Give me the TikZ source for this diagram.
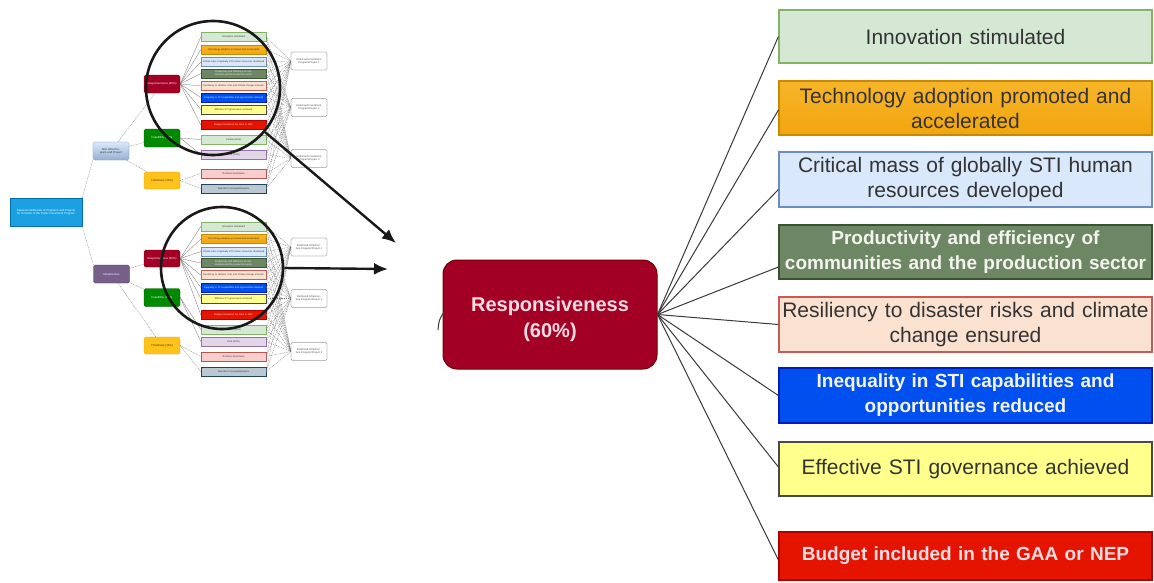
\documentclass[tikz,border=0pt]{standalone}
\usepackage{fontspec}
\setmainfont{Liberation Sans}
\usetikzlibrary{arrows.meta,calc}
\definecolor{lgreenF}{HTML}{D5E8D4}\definecolor{lgreenD}{HTML}{82B366}
\definecolor{orangeF}{HTML}{F2A50D}\definecolor{orangeD}{HTML}{C98A00}
\definecolor{orangeT}{HTML}{F7B52A}
\definecolor{lblueF}{HTML}{DAE8FC}\definecolor{lblueD}{HTML}{6C8EBF}
\definecolor{olivF}{HTML}{6D8764}\definecolor{olivD}{HTML}{3A5431}
\definecolor{peachF}{HTML}{FBE2D0}\definecolor{peachD}{HTML}{C85A54}
\definecolor{blueF}{HTML}{0050EF}\definecolor{blueD}{HTML}{001DBC}
\definecolor{yelF}{HTML}{FFFF8C}\definecolor{yelD}{HTML}{4A4A40}
\definecolor{redF}{HTML}{E51400}\definecolor{redD}{HTML}{B20000}
\definecolor{crimF}{HTML}{A20025}\definecolor{crimD}{HTML}{6F0000}
\definecolor{grnF}{HTML}{008A00}\definecolor{grnD}{HTML}{005700}
\definecolor{goldF}{HTML}{FFC21A}\definecolor{goldD}{HTML}{D79B00}
\definecolor{purF}{HTML}{76608A}\definecolor{purD}{HTML}{432D57}
\definecolor{cyanF}{HTML}{1BA1E2}\definecolor{cyanD}{HTML}{006EAF}
\definecolor{lpurF}{HTML}{E1D5E7}\definecolor{lpurD}{HTML}{9673A6}
\definecolor{pinkF}{HTML}{F8CECC}\definecolor{pinkD}{HTML}{B85450}
\definecolor{grayF}{HTML}{BAC8D3}\definecolor{grayD}{HTML}{23445D}
\definecolor{txtD}{HTML}{333333}
\definecolor{txtW}{HTML}{F4F4EE}
\definecolor{txtP}{HTML}{F9DDE3}
\definecolor{fanC}{HTML}{3A3A3A}
\begin{document}
\begin{tikzpicture}[x=1pt,y=-1pt,
  sInnov/.style={fill=lgreenF, draw=lgreenD, text=txtD},
  sTech/.style={top color=orangeT, bottom color=orangeF, draw=orangeD, text=txtD},
  sCrit/.style={fill=lblueF, draw=lblueD, text=txtD},
  sProd/.style={fill=olivF, draw=olivD, text=txtW},
  sResil/.style={fill=peachF, draw=peachD, text=txtD},
  sIneq/.style={fill=blueF, draw=blueD, text=txtW},
  sGov/.style={fill=yelF, draw=yelD, text=txtD},
  sBudg/.style={fill=redF, draw=redD, text=txtP},
  sCost/.style={fill=lpurF, draw=lpurD, text=txtD},
  sTA/.style={fill=pinkF, draw=pinkD, text=txtD},
  sSel/.style={fill=grayF, draw=grayD, text=txtD},
  mainbox/.style={line width=1.2pt, minimum width=373pt, minimum height=54pt,
    text width=371pt, align=center, inner sep=0pt, font=\fontsize{21}{25}\selectfont},
  whitebold/.style={font=\fontsize{19}{25}\selectfont\bfseries},
  fan/.style={draw=fanC, line width=1pt},
  cbox/.style={minimum width=65pt, minimum height=9pt, text width=63pt, align=center,
    inner sep=0pt, line width=0.3pt, font=\fontsize{2.4}{2.8}\selectfont},
  tnode/.style={rounded corners=1.5pt, minimum width=36pt, minimum height=18pt,
    text width=33pt, align=center, inner sep=0pt, line width=0.3pt,
    font=\fontsize{2.8}{3.3}\selectfont},
  ebox/.style={draw=black!70, fill=white, rounded corners=1.5pt, minimum width=36pt,
    minimum height=18pt, text width=34pt, align=center, inner sep=0pt, line width=0.3pt,
    font=\fontsize{2.6}{3}\selectfont, text=black!70},
  tline/.style={draw=black!55, line width=0.3pt},
  tdash/.style={draw=black!55, line width=0.3pt, dash pattern=on 1pt off 0.8pt},
  magring/.style={circle, draw=black!90, line width=2.6pt, inner sep=0pt},
  magarrow/.style={draw=black!90, line width=2.4pt, -{Latex[length=14pt,width=12pt]}}
]
\useasboundingbox (0,0) rectangle (1154,582);
\fill[white] (0,0) rectangle (1154,582);

% ---------- thumbnail ----------
\node[tnode, fill=cyanF, draw=cyanD, text=white, minimum width=72pt, minimum height=28pt, text width=66pt, rounded corners=0pt] (root) at (46,212)
  {Assessment/Review of Programs and Projects for Inclusion in the Public Investment Program};
\node[tnode, top color=lblueF, bottom color=lblueD!70, draw=lblueD, text=txtD] (noninfra) at (111,151) {Non-Infra Program and Project};
\node[tnode, fill=purF, draw=purD, text=white] (infra) at (111.5,274) {Infrastructure};
\node[tnode, fill=crimF, draw=crimD, text=white] (r1) at (162,84) {Responsiveness (60\%)};
\node[tnode, fill=grnF, draw=grnD, text=white] (g1) at (162,138) {Feasibility (25\%)};
\node[tnode, fill=goldF, draw=goldD, text=txtD, minimum height=17pt] (y1) at (162,180.5) {Timeliness (15\%)};
\node[tnode, fill=crimF, draw=crimD, text=white, minimum height=17pt] (r2) at (162,258.5) {Responsiveness (60\%)};
\node[tnode, fill=grnF, draw=grnD, text=white] (g2) at (162,297.5) {Feasibility (25\%)};
\node[tnode, fill=goldF, draw=goldD, text=txtD, minimum height=17pt] (y2) at (162,345.5) {Timeliness (15\%)};

% top criteria column
\node[cbox, sInnov] (ta1) at (233.5,37) {Innovation stimulated};
\node[cbox, sTech] (ta2) at (233.5,49.5) {Technology adoption promoted and accelerated};
\node[cbox, sCrit] (ta3) at (233.5,62) {Critical mass of globally STI human resources developed};
\node[cbox, sProd] (ta4) at (233.5,73.5) {Productivity and efficiency of communities and the production sector};
\node[cbox, sResil] (ta5) at (233.5,86) {Resiliency to disaster risks and climate change ensured};
\node[cbox, sIneq] (ta6) at (233.5,97.5) {Inequality in STI capabilities and opportunities reduced};
\node[cbox, sGov] (ta7) at (233.5,109.5) {Effective STI governance achieved};
\node[cbox, sBudg] (ta8) at (233.5,125) {Budget included in the GAA or NEP};
\node[cbox, sInnov] (ta9) at (233.5,139.5) {Criteria (15\%)};
\node[cbox, sCost] (ta10) at (233.5,154.5) {Cost (10\%)};
\node[cbox, sTA] (ta11) at (233.5,173.5) {Technical Assistance};
\node[cbox, sSel] (ta12) at (233.5,188.5) {Selection of program/projects};
% bottom criteria column
\node[cbox, sInnov] (tb1) at (233.5,226.5) {Innovation stimulated};
\node[cbox, sTech] (tb2) at (233.5,239) {Technology adoption promoted and accelerated};
\node[cbox, sCrit] (tb3) at (233.5,251.5) {Critical mass of globally STI human resources developed};
\node[cbox, sProd] (tb4) at (233.5,263) {Productivity and efficiency of communities and the production sector};
\node[cbox, sResil] (tb5) at (233.5,275) {Resiliency to disaster risks and climate change ensured};
\node[cbox, sIneq] (tb6) at (233.5,287.5) {Inequality in STI capabilities and opportunities reduced};
\node[cbox, sGov] (tb7) at (233.5,298.5) {Effective STI governance achieved};
\node[cbox, sBudg] (tb8) at (233.5,315) {Budget included in the GAA or NEP};
\node[cbox, sInnov] (tb9) at (233.5,329.5) {Criteria (15\%)};
\node[cbox, sCost] (tb10) at (233.5,341.5) {Cost (10\%)};
\node[cbox, sTA] (tb11) at (233.5,356.5) {Technical Assistance};
\node[cbox, sSel] (tb12) at (233.5,371.5) {Selection of program/projects};

% endorsed boxes
\node[ebox] (ea1) at (309,61) {Endorsed Investment Program/Project 1};
\node[ebox] (ea2) at (309,107.5) {Endorsed Investment Program/Project 2};
\node[ebox] (ea3) at (309,158.5) {Endorsed Investment Program/Project 3};
\node[ebox] (eb1) at (309,247) {Endorsed Infrastructure Program/Project 1};
\node[ebox] (eb2) at (309,298.5) {Endorsed Infrastructure Program/Project 2};
\node[ebox] (eb3) at (309,351.5) {Endorsed Infrastructure Program/Project 3};

% thumbnail connectors
\draw[tdash] (root.north east) -- (noninfra.south west);
\draw[tdash] (root.south east) -- (infra.north west);
\foreach \t in {r1,g1,y1} \draw[tdash] (noninfra) -- (\t);
\foreach \t in {r2,g2,y2} \draw[tdash] (infra) -- (\t);
\foreach \i in {1,...,8} {
  \draw[tline] (r1.east) -- (ta\i.west);
  \draw[tline] (r2.east) -- (tb\i.west);
}
\foreach \i in {9,10} {
  \draw[tline] (g1.east) -- (ta\i.west);
  \draw[tline] (g2.east) -- (tb\i.west);
}
\foreach \i in {11,12} {
  \draw[tdash] (y1.east) -- (ta\i.west);
  \draw[tdash] (y2.east) -- (tb\i.west);
}
\foreach \i in {1,...,12} {
  \foreach \j in {1,2,3} {
    \draw[tdash] (ta\i.east) -- (ea\j.west);
    \draw[tdash] (tb\i.east) -- (eb\j.west);
  }
}

% magnifiers
\node[magring, minimum size=134pt] (mag1) at (213,88) {};
\node[magring, minimum size=122pt] (mag2) at (222,268) {};
\coordinate (tip1) at (396,243);
\coordinate (tip2) at (388,269);
\draw[magarrow] (mag1) -- (tip1);
\draw[magarrow] (mag2.east) -- (tip2);

% ---------- main detail ----------
\node[fill=crimF, draw=crimD, line width=1pt, rounded corners=14pt,
  minimum width=214pt, minimum height=109pt, text width=200pt, align=center,
  inner sep=0pt, text=txtP, font=\fontsize{20}{26}\selectfont\bfseries]
  (resp) at (550,314.5) {\rule{0pt}{24pt}Responsiveness\\(60\%)};
\draw[fanC, line width=1pt] (438,330) .. controls (439,320) .. (444,312);

\node[mainbox, sInnov, minimum height=53pt] (b1) at (965.5,36.5) {Innovation stimulated};
\node[mainbox, sTech] (b2) at (965.5,108) {Technology adoption promoted and\\accelerated};
\node[mainbox, sCrit, minimum height=55pt] (b3) at (965.5,179.5) {Critical mass of globally STI human\\resources developed};
\node[mainbox, sProd, whitebold] (b4) at (965.5,252) {Productivity and efficiency of\\communities and the production sector};
\node[mainbox, sResil, minimum height=55pt] (b5) at (965.5,324.5) {Resiliency to disaster risks and climate\\change ensured};
\node[mainbox, sIneq, whitebold, minimum height=55pt] (b6) at (965.5,395.5) {Inequality in STI capabilities and\\opportunities reduced};
\node[mainbox, sGov] (b7) at (965.5,469) {Effective STI governance achieved};
\node[mainbox, sBudg, whitebold, minimum height=48pt] (b8) at (965.5,556) {Budget included in the GAA or NEP};

\draw[fan] (resp.east) -- (b1.west);
\draw[fan] (resp.east) -- ($(b2.west)+(0,2)$);
\draw[fan] (resp.east) -- ($(b3.west)+(0,10)$);
\draw[fan] (resp.east) -- ($(b4.west)+(0,15)$);
\draw[fan] (resp.east) -- (b5.west);
\draw[fan] (resp.east) -- (b6.west);
\draw[fan] (resp.east) -- ($(b7.west)+(0,-2)$);
\draw[fan] (resp.east) -- ($(b8.west)+(0,4)$);
\end{tikzpicture}
\end{document}
